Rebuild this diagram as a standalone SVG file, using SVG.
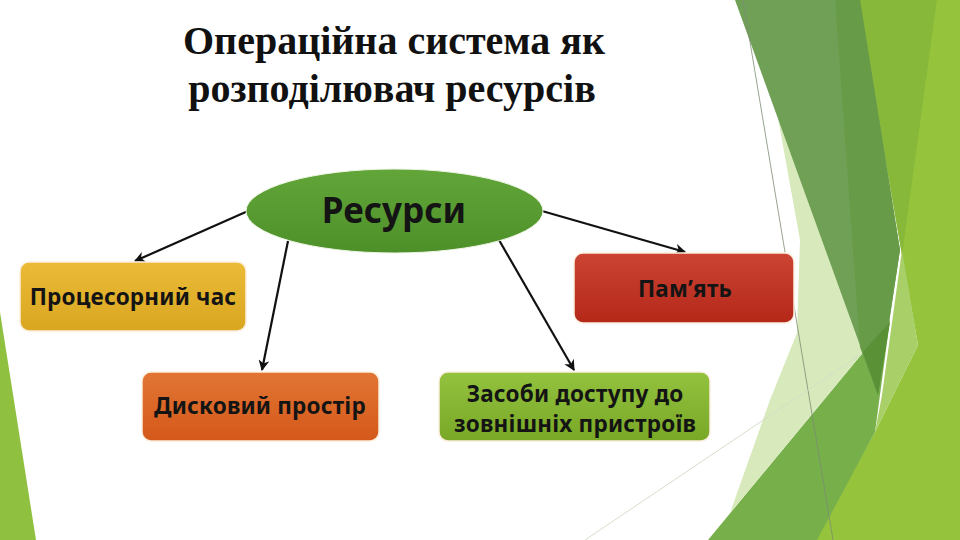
<svg xmlns="http://www.w3.org/2000/svg" width="960" height="540" viewBox="0 0 960 540">
<defs>
<style>
.title{font-family:"Liberation Serif","Times New Roman",serif;font-weight:bold;font-size:40px;fill:#111;text-anchor:middle}
.lbl{font-family:"Noto Sans","Open Sans",sans-serif;font-weight:bold;font-size:22.5px;letter-spacing:0.2px;fill:#141414;text-anchor:middle}
.big{font-family:"Noto Sans","Open Sans",sans-serif;font-weight:bold;font-size:35px;fill:#141414;text-anchor:middle}
.box{stroke:#fbeedd;stroke-width:1.5}
.conn{stroke:#111;stroke-width:2.2;fill:none;marker-end:url(#arr)}
</style>
<marker id="arr" viewBox="0 0 10 10" refX="9" refY="5" markerWidth="5" markerHeight="5" orient="auto" markerUnits="strokeWidth">
<path d="M0,0 L10,5 L0,10 L3,5 Z" fill="#111"/>
</marker>
<linearGradient id="gEll" x1="0" y1="0" x2="0" y2="1"><stop offset="0" stop-color="#62a63a"/><stop offset="1" stop-color="#4d9029"/></linearGradient>
<linearGradient id="gY" x1="0" y1="0" x2="0" y2="1"><stop offset="0" stop-color="#ebbb38"/><stop offset="1" stop-color="#d9a61f"/></linearGradient>
<linearGradient id="gR" x1="0" y1="0" x2="0" y2="1"><stop offset="0" stop-color="#cc4434"/><stop offset="1" stop-color="#b42818"/></linearGradient>
<linearGradient id="gO" x1="0" y1="0" x2="0" y2="1"><stop offset="0" stop-color="#e27634"/><stop offset="1" stop-color="#d4581a"/></linearGradient>
<linearGradient id="gG" x1="0" y1="0" x2="0" y2="1"><stop offset="0" stop-color="#92c23e"/><stop offset="1" stop-color="#78a826"/></linearGradient>
</defs>
<rect width="960" height="540" fill="#ffffff"/>
<g id="background">
<polygon points="0,312 36,540 0,540" fill="#8fc03f"/>
<polygon points="858,0 960,0 960,540 815,540 875,432 918,345 902,255" fill="#95c43c"/>
<polygon points="858,0 937,0 902,255" fill="#88b83a"/>
<polygon points="902,250 918,345 875,432 882,395" fill="#a9cf68"/>
<polygon points="890,320 708,540 817,540 875,432" fill="#77b04a"/>
<polygon points="778,118 865,350 730,513 770,400 797,333 800,240" fill="#d8e9bb"/>
<polygon points="735,0 860,0 900,250 878,395" fill="#6fa055"/>
<polygon points="835,0 860,0 900,250 878,395 860,347" fill="#689b48"/>
<polygon points="863,352 890,322 878,395" fill="#5a9136"/>
<line x1="743" y1="0" x2="833" y2="540" stroke="#7e8c76" stroke-width="0.8"/>
<line x1="585" y1="540" x2="860" y2="355" stroke="#d4dfc8" stroke-width="1"/>
</g>
<g id="title">
<text class="title" x="394" y="54">Операційна система як</text>
<text class="title" x="392" y="102">розподілювач ресурсів</text>
</g>
<g id="connectors">
<line class="conn" x1="248" y1="211" x2="135" y2="261"/>
<line class="conn" x1="288" y1="241" x2="262" y2="370"/>
<line class="conn" x1="542" y1="211" x2="685" y2="252"/>
<line class="conn" x1="499" y1="240" x2="574" y2="370"/>
</g>
<g id="node-resources">
<ellipse cx="394.5" cy="211" rx="148.5" ry="42" fill="url(#gEll)" stroke="#eef5e5" stroke-width="1"/>
<text class="big" x="394" y="223">Ресурси</text>
</g>
<g id="node-cpu">
<rect class="box" x="20" y="262" width="226" height="69" rx="9" fill="url(#gY)"/>
<text class="lbl" x="133" y="305">Процесорний час</text>
</g>
<g id="node-memory">
<rect class="box" x="574" y="253" width="220" height="70" rx="9" fill="url(#gR)"/>
<text class="lbl" x="685" y="297">Пам’ять</text>
</g>
<g id="node-disk">
<rect class="box" x="142" y="372" width="237" height="69" rx="9" fill="url(#gO)"/>
<text class="lbl" x="260" y="414">Дисковий простір</text>
</g>
<g id="node-devices">
<rect class="box" x="439" y="372" width="271" height="69" rx="9" fill="url(#gG)"/>
<text class="lbl" x="575" y="402">Засоби доступу до</text>
<text class="lbl" x="575" y="432">зовнішніх пристроїв</text>
</g>
</svg>
